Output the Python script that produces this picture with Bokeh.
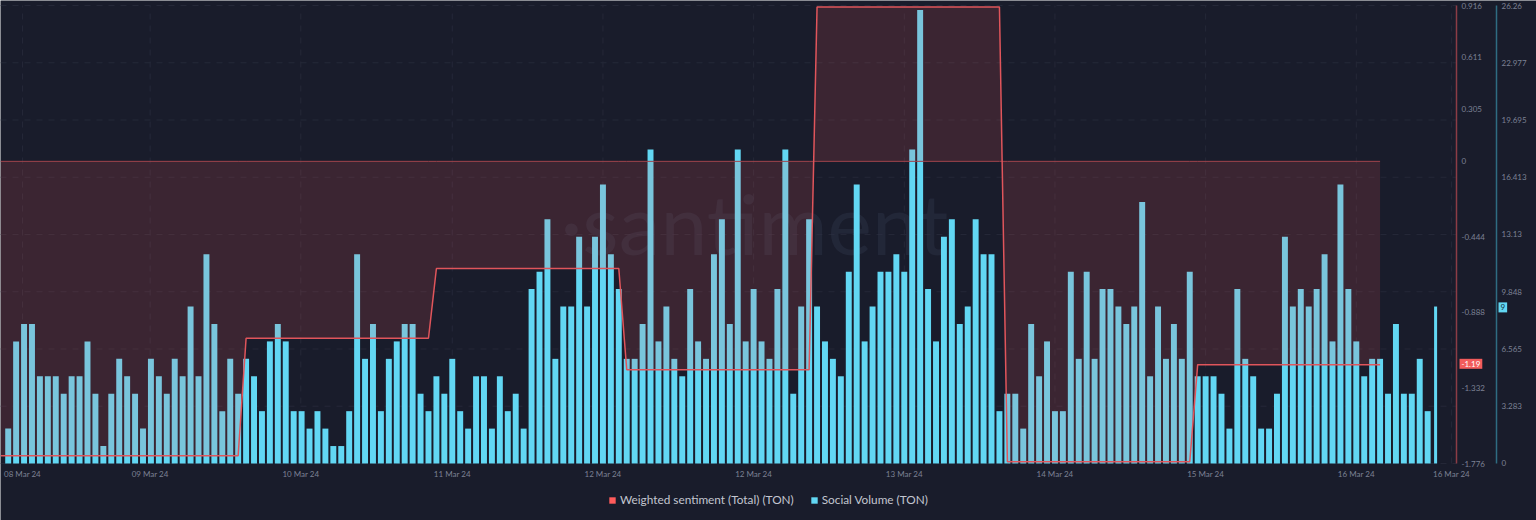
from bokeh.plotting import figure
from bokeh.embed import file_html
from bokeh.resources import INLINE
from bokeh.models import LinearAxis, Range1d, FixedTicker, Label, Legend, LegendItem

# social volume, one bar per period
social_volume = [
    2, 7, 8, 8, 5, 5, 5, 4, 5, 5, 7, 4, 1, 4, 6, 5, 4, 2, 6, 5, 4, 6, 5, 9, 5,
    12, 8, 3, 6, 4, 6, 5, 3, 7, 8, 7, 3, 3, 2, 3, 2, 1, 1, 3, 12, 6, 8, 3, 6, 7,
    8, 8, 4, 3, 5, 4, 6, 3, 2, 5, 5, 2, 5,
    3, 4, 2, 10, 11, 14, 6, 9, 9, 13, 9, 13, 16, 12, 10, 6, 6, 8, 18, 7, 9, 6, 5,
    10, 7, 6, 12, 14, 8, 18, 7, 10, 7, 6, 10, 18, 4, 9, 14, 9, 7, 6, 5, 11, 16, 7,
    9, 11, 11, 12, 11, 18, 26, 10, 7, 13, 14, 8, 9, 14, 12,
    12, 3, 4, 4, 2, 8, 5, 7, 3, 3, 11, 6, 11, 6, 10, 10, 9, 8, 9, 15, 5, 9, 6, 8,
    6, 11, 5, 5, 5, 4, 2, 10, 6, 5, 2, 2, 4, 13, 9, 10, 9, 10, 12, 7, 16, 10, 7,
    5, 6, 6, 4, 8, 4, 4, 6, 3, 9,
]

# weighted sentiment, held flat for a day then moved to the next level
sentiment_period = [-0.97, 29, 30, 53, 54, 77, 78, 101, 102, 125, 126, 149, 150, 173]
sentiment_value = [-1.73, -1.73, -1.04, -1.04, -0.63, -0.63, -1.225, -1.225,
                   0.907, 0.907, -1.766, -1.766, -1.195, -1.195]
sentiment_zero = [0] * len(sentiment_period)

date_ticks = [1.8, 17.9, 36.9, 56, 75, 94, 113, 132, 151, 170, 182]
date_labels = ["08 Mar 24", "09 Mar 24", "10 Mar 24", "11 Mar 24", "12 Mar 24", "12 Mar 24",
               "13 Mar 24", "14 Mar 24", "15 Mar 24", "16 Mar 24", "16 Mar 24"]
volume_ticks = [0, 3.283, 6.565, 9.848, 13.13, 16.413, 19.695, 22.977, 26.26]
sentiment_ticks = [-1.776, -1.332, -0.888, -0.444, 0, 0.305, 0.611, 0.916]

BG = "#191c2b"
TEXT = "#7c8194"
RED = "#ff5b5b"
BLUE = "#62d7f3"

W, H = 1536, 520
PX_PERIOD = 7.93
X0 = -0.97
RED_X = X0 + 1456 / PX_PERIOD
BLUE_X = X0 + 1496 / PX_PERIOD

# the frame fills the canvas so the axes, badges and legend can sit anywhere in it
p = figure(width=W, height=H, output_backend="svg", toolbar_location=None,
           x_range=Range1d(X0, X0 + W / PX_PERIOD), y_range=Range1d(-3.269, 26.547),
           min_border_left=0, min_border_right=0, min_border_top=0, min_border_bottom=0,
           background_fill_color=BG, border_fill_color=BG, outline_line_color=None)
p.extra_y_ranges = {"sentiment": Range1d(-2.111, 0.9454)}

p.xaxis.fixed_location = 0
p.xaxis.ticker = FixedTicker(ticks=date_ticks)
p.xaxis.major_label_overrides = dict(zip(date_ticks, date_labels))
p.xaxis.axis_line_color = None
p.xaxis.major_tick_line_color = None
p.xaxis.minor_tick_line_color = None
p.xaxis.major_label_standoff = 0
p.xaxis.major_label_text_color = TEXT
p.xaxis.major_label_text_font = "Lato"
p.xaxis.major_label_text_font_size = "8px"

p.yaxis.visible = False

red_axis = LinearAxis(y_range_name="sentiment", ticker=FixedTicker(ticks=sentiment_ticks),
                      major_label_overrides={v: str(v) for v in sentiment_ticks},
                      fixed_location=RED_X, bounds=(-1.776, 0.916))
blue_axis = LinearAxis(ticker=FixedTicker(ticks=volume_ticks),
                       major_label_overrides={v: str(v) for v in volume_ticks},
                       fixed_location=BLUE_X, bounds=(0, 26.26))
for ax, col in ((red_axis, "#8c3c46"), (blue_axis, "#2f6c82")):
    ax.axis_line_color = col
    ax.axis_line_width = 1.5
    ax.major_tick_line_color = None
    ax.minor_tick_line_color = None
    ax.major_label_standoff = -1
    ax.major_label_text_color = TEXT
    ax.major_label_text_font = "Lato"
    ax.major_label_text_font_size = "8px"
p.add_layout(red_axis, "right")
p.add_layout(blue_axis, "right")

p.xgrid.visible = False
p.ygrid.visible = False
p.segment(x0=[X0] * len(volume_ticks), y0=volume_ticks, x1=[RED_X] * len(volume_ticks), y1=volume_ticks,
          line_color="#252838", line_dash="dashed", line_width=1, level="underlay")
p.segment(x0=date_ticks, y0=[0] * len(date_ticks), x1=date_ticks, y1=[volume_ticks[-1]] * len(date_ticks),
          line_color="#252838", line_dash="dashed", line_width=1, level="underlay")

p.add_layout(Label(x=560, y=298, x_units="screen", y_units="screen", text="·santiment",
                   text_font="Lato", text_font_size="84px", text_color="#2b3146",
                   text_baseline="alphabetic", text_alpha=0.5, level="underlay"))

periods = list(range(len(social_volume)))
widths = [0.75] * (len(periods) - 1) + [0.38]
bars = p.vbar(x=periods, top=social_volume, bottom=0, width=widths, fill_color=BLUE, line_color=None)

p.varea(x=sentiment_period, y1=sentiment_value, y2=sentiment_zero, y_range_name="sentiment",
        fill_color=RED, fill_alpha=0.15)
p.line(sentiment_period, sentiment_zero, y_range_name="sentiment", line_color="#a0444c", line_width=1)
p.line(sentiment_period, sentiment_value, y_range_name="sentiment", line_color="#e0555b", line_width=1.5)

# zero height bar, only there to give the legend a red square
red_key = p.vbar(x=sentiment_period[:1], top=[0], bottom=[0], width=0, fill_color=RED, line_color=None)
legend = Legend(items=[LegendItem(label="Weighted sentiment (Total) (TON)", renderers=[red_key]),
                       LegendItem(label="Social Volume (TON)", renderers=[bars])],
                orientation="horizontal", location=(608, 13), background_fill_alpha=0,
                border_line_color=None, glyph_width=8, glyph_height=8, spacing=16,
                label_standoff=4, label_text_color="#c3c6d0", label_text_font="Lato",
                label_text_font_size="11.8px", margin=0, padding=2)
p.add_layout(legend, "center")

p.add_layout(Label(x=1459, y=-1.19, y_range_name="sentiment", x_units="screen", text="-1.19",
                   text_color="#ffffff", text_font="Lato", text_font_size="8px",
                   text_baseline="middle", background_fill_color="#f25c5c",
                   padding=2))
p.add_layout(Label(x=1498, y=8.95, x_units="screen", text="9", text_color="#123040",
                   text_font="Lato", text_font_size="8px", text_baseline="middle",
                   background_fill_color=BLUE, padding=2))

open("out.html", "w").write(file_html(p, INLINE))
